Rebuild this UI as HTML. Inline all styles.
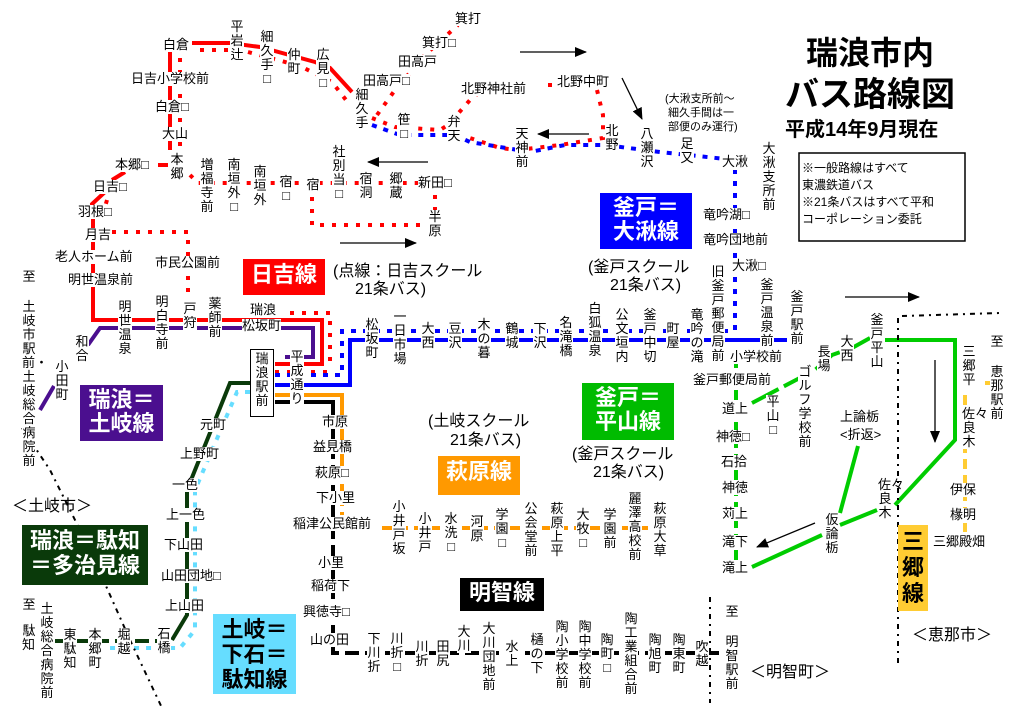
<!DOCTYPE html>
<html><head><meta charset="utf-8"><style>
body{margin:0;background:#fff}
#w{position:relative;width:1024px;height:723px;overflow:hidden;background:#fff;font-family:"Liberation Sans","Noto Sans CJK JP",sans-serif;color:#000}
svg{position:absolute;left:0;top:0}
.t{position:absolute;font-size:13px;line-height:14px;white-space:nowrap;background:#fff}
.v{position:absolute;font-size:13px;line-height:14px;width:14px;text-align:center;word-break:break-all;background:#fff}
.b{position:absolute;font-weight:bold;color:#fff;font-size:22px;line-height:26px;text-align:center;box-sizing:border-box;padding-top:3px}
.m{font-size:16px;line-height:19px;background:transparent}
</style></head><body><div id="w">
<svg width="1024" height="723" viewBox="0 0 1024 723">
<defs><marker id="a" markerWidth="12" markerHeight="10" refX="11" refY="5" orient="auto" markerUnits="userSpaceOnUse"><path d="M0,0L12,5L0,10z"/></marker></defs>
<g fill="none" stroke-linecap="butt">
<polyline stroke="#f00" stroke-width="4" points="192,43 230,43 260,47 315,62 330,68 352,92"/>
<polyline stroke="#f00" stroke-width="4" points="170,52 170,150"/>
<polyline stroke="#f00" stroke-width="4" points="158,165 168,165"/>
<polyline stroke="#f00" stroke-width="4" points="125,172 112,180"/>
<polyline stroke="#f00" stroke-width="4" points="105,192 92,204 93,214 93,320 322,320 322,364 275,364"/>
<g stroke="#f00" stroke-width="4" stroke-dasharray="4 8">
<polyline points="200,50 228,50"/><polyline points="180,58 180,148"/>
<polyline points="248,52 300,66 332,82 346,100"/>
<polyline points="372,118 395,127 440,130 448,125 470,100 488,85 525,85"/>
<polyline points="377,115 395,90 425,55 458,25"/>
<polyline points="548,85 555,85"/>
<polyline points="597,90 603,115 603,138 560,145 518,150 500,148 470,138"/>
<polyline points="190,175 198,183 428,183"/>
<polyline points="312,185 312,225 428,225"/><polyline points="435,195 435,210"/>
<polyline points="107,200 103,214"/>
<polyline points="112,232 188,232 188,300"/>
<polyline points="290,313 330,313 330,368"/>
<polyline points="275,372 330,372"/>
</g>
<polyline stroke="#4b0f8f" stroke-width="4" points="88,345 100,328 313,328 313,357 285,357"/>
<polyline stroke="#4b0f8f" stroke-width="4" points="40,410 54,386"/>
<polyline stroke="#00f" stroke-width="4" points="275,385 350,385 350,340 787,340"/>
<g stroke="#00f" stroke-width="4" stroke-dasharray="5 7">
<polyline points="275,375 342,375 342,331 735,331"/>
<polyline points="735,330 735,170"/>
<polyline points="372,125 400,135 455,135 470,142 530,152 565,145 605,145 660,152 735,160"/>
</g>
<polyline stroke="#f90" stroke-width="4" points="275,395 342,395 342,470"/>
<polyline stroke="#f90" stroke-width="4" stroke-dasharray="8 6" points="342,470 342,515"/>
<polyline stroke="#f90" stroke-width="4" stroke-dasharray="10 6" points="382,528 650,528"/>
<polyline stroke="#000" stroke-width="4" points="275,402 333,402 333,420"/>
<polyline stroke="#000" stroke-width="4" stroke-dasharray="14 6" points="333,425 333,653 365,653"/>
<polyline stroke="#000" stroke-width="4" stroke-dasharray="14 6" points="365,653 725,653"/>
<polyline stroke="#0a3a0a" stroke-width="4" points="252,383 230,383 187,490 187,615 172,640"/>
<polyline stroke="#0a3a0a" stroke-width="4" stroke-dasharray="14 6" points="55,641 172,641"/>
<polyline stroke="#66ddff" stroke-width="4" stroke-dasharray="5 7" points="250,392 237,392 195,490 195,630 180,648 105,648"/>
<polyline stroke="#0c0" stroke-width="4" stroke-dasharray="10 6" points="736,358 736,570"/>
<polyline stroke="#0c0" stroke-width="4" stroke-dasharray="30 6" points="752,403 815,370 832,355 852,348 870,338"/>
<polyline stroke="#0c0" stroke-width="4" points="885,340 955,340 955,440 895,505"/>
<polyline stroke="#0c0" stroke-width="4" points="752,567 822,535"/><polyline stroke="#0c0" stroke-width="4" points="840,525 877,510"/>
<polyline stroke="#0c0" stroke-width="4" points="858,446 840,513"/>
<polyline stroke="#fc3" stroke-width="4" stroke-dasharray="10 6" points="965,395 965,532"/>
<polyline stroke="#fc3" stroke-width="4" points="985,383 1000,383"/>
<g stroke="#000" stroke-width="2" stroke-dasharray="5 5 2 5">
<polyline points="22,428 50,470 90,550 130,640 163,710"/>
<polyline points="898,318 898,665"/><polyline points="902,316 1000,313"/>
<polyline points="710,597 710,703"/>
</g>
<g stroke="#000" stroke-width="1.3" marker-end="url(#a)">
<line x1="520" y1="52" x2="586" y2="52"/><line x1="622" y1="78" x2="642" y2="119"/>
<line x1="589" y1="134" x2="538" y2="134"/><line x1="428" y1="162" x2="368" y2="162"/>
<line x1="340" y1="243" x2="416" y2="243"/><line x1="845" y1="297" x2="919" y2="297"/>
<line x1="935" y1="360" x2="935" y2="442"/><line x1="815" y1="523" x2="757" y2="547"/>
</g>
<rect x="799" y="153" width="166" height="88" stroke="#000" stroke-width="1.5"/>
</g>
</svg>
<div class="t" style="left:806px;top:35px;font-size:32px;line-height:36px;font-weight:bold">瑞浪市内</div>
<div class="t" style="left:785px;top:76px;font-size:34px;line-height:38px;font-weight:bold">バス路線図</div>
<div class="t" style="left:785px;top:118px;font-size:20px;line-height:24px;font-weight:bold">平成14年9月現在</div>
<div class="t" style="left:802px;top:160px;font-size:12px;line-height:17px">※一般路線はすべて<br>東濃鉄道バス<br>※21条バスはすべて平和<br>コーポレーション委託</div>
<div class="t" style="left:665px;top:92px;font-size:11px;line-height:14px">(大湫支所前～<br>&nbsp;細久手間は一<br>&nbsp;部便のみ運行)</div>
<div class="b" style="left:243px;top:259px;width:82px;height:36px;background:#f00">日吉線</div>
<div class="b" style="left:600px;top:193px;width:92px;height:56px;background:#00f;line-height:24px">釜戸＝<br>大湫線</div>
<div class="b" style="left:80px;top:385px;width:83px;height:56px;background:#4b0f8f;line-height:24px">瑞浪＝<br>土岐線</div>
<div class="b" style="left:582px;top:383px;width:92px;height:57px;background:#0b0;line-height:24px">釜戸＝<br>平山線</div>
<div class="b" style="left:438px;top:456px;width:82px;height:39px;background:#f90">萩原線</div>
<div class="b" style="left:460px;top:578px;width:84px;height:33px;background:#000;padding-top:2px">明智線</div>
<div class="b" style="left:22px;top:525px;width:126px;height:60px;background:#0a3a0a;line-height:25px">瑞浪＝駄知<br>＝多治見線</div>
<div class="b" style="left:213px;top:614px;width:83px;height:80px;background:#66ddff;color:#000;line-height:25px">土岐＝<br>下石＝<br>駄知線</div>
<div class="b" style="left:898px;top:525px;width:30px;height:86px;background:#fc3;color:#000;line-height:26px;padding-top:4px">三<br>郷<br>線</div>
<div class="t m" style="left:333px;top:262px">(点線：日吉スクール</div>
<div class="t m" style="left:355px;top:280px">21条バス)</div>
<div class="t m" style="left:588px;top:258px">(釜戸スクール</div>
<div class="t m" style="left:610px;top:276px">21条バス)</div>
<div class="t m" style="left:572px;top:445px">(釜戸スクール</div>
<div class="t m" style="left:593px;top:463px">21条バス)</div>
<div class="t m" style="left:428px;top:412px">(土岐スクール</div>
<div class="t m" style="left:450px;top:431px">21条バス)</div>
<div class="t m" style="left:12px;top:497px">＜土岐市＞</div>
<div class="t m" style="left:912px;top:626px">＜恵那市＞</div>
<div class="t m" style="left:750px;top:663px">＜明智町＞</div>
<div class="t" style="left:455px;top:12px">箕打</div>
<div class="t" style="left:422px;top:36px">箕打□</div>
<div class="t" style="left:398px;top:55px">田高戸</div>
<div class="t" style="left:363px;top:74px">田高戸□</div>
<div class="t" style="left:461px;top:82px">北野神社前</div>
<div class="t" style="left:557px;top:75px">北野中町</div>
<div class="t" style="left:163px;top:38px">白倉</div>
<div class="t" style="left:131px;top:72px">日吉小学校前</div>
<div class="t" style="left:155px;top:100px">白倉□</div>
<div class="t" style="left:162px;top:127px">大山</div>
<div class="t" style="left:115px;top:158px">本郷□</div>
<div class="t" style="left:93px;top:180px">日吉□</div>
<div class="t" style="left:78px;top:205px">羽根□</div>
<div class="t" style="left:85px;top:228px">月吉</div>
<div class="t" style="left:55px;top:250px">老人ホーム前</div>
<div class="t" style="left:68px;top:273px">明世温泉前</div>
<div class="t" style="left:155px;top:256px">市民公園前</div>
<div class="t" style="left:418px;top:176px">新田□</div>
<div class="t" style="left:722px;top:155px">大湫</div>
<div class="t" style="left:703px;top:208px">竜吟湖□</div>
<div class="t" style="left:703px;top:233px">竜吟団地前</div>
<div class="t" style="left:732px;top:259px">大湫□</div>
<div class="t" style="left:250px;top:303px">瑞浪</div>
<div class="t" style="left:242px;top:319px">松坂町</div>
<div class="t" style="left:730px;top:350px">小学校前</div>
<div class="t" style="left:693px;top:373px">釜戸郵便局前</div>
<div class="t" style="left:722px;top:402px">道上</div>
<div class="t" style="left:716px;top:430px">神徳□</div>
<div class="t" style="left:721px;top:455px">石拾</div>
<div class="t" style="left:722px;top:481px">神徳</div>
<div class="t" style="left:722px;top:507px">苅上</div>
<div class="t" style="left:722px;top:535px">滝下</div>
<div class="t" style="left:722px;top:561px">滝上</div>
<div class="t" style="left:840px;top:410px">上論栃</div>
<div class="t" style="left:840px;top:428px">&lt;折返&gt;</div>
<div class="t" style="left:950px;top:483px">伊保</div>
<div class="t" style="left:950px;top:508px">椽明</div>
<div class="t" style="left:933px;top:535px">三郷殿畑</div>
<div class="t" style="left:322px;top:415px">市原</div>
<div class="t" style="left:313px;top:440px">益見橋</div>
<div class="t" style="left:315px;top:466px">萩原□</div>
<div class="t" style="left:316px;top:491px">下小里</div>
<div class="t" style="left:293px;top:517px">稲津公民館前</div>
<div class="t" style="left:318px;top:556px">小里</div>
<div class="t" style="left:311px;top:579px">稲荷下</div>
<div class="t" style="left:303px;top:605px">興徳寺□</div>
<div class="t" style="left:310px;top:633px">山の田</div>
<div class="t" style="left:200px;top:418px">元町</div>
<div class="t" style="left:180px;top:447px">上野町</div>
<div class="t" style="left:172px;top:478px">一色</div>
<div class="t" style="left:166px;top:508px">上一色</div>
<div class="t" style="left:164px;top:538px">下山田</div>
<div class="t" style="left:161px;top:569px">山田団地□</div>
<div class="t" style="left:165px;top:599px">上山田</div>
<div class="v" style="left:230px;top:20px">平岩辻</div>
<div class="v" style="left:260px;top:30px">細久手□</div>
<div class="v" style="left:287px;top:48px">仲町</div>
<div class="v" style="left:316px;top:48px">広見□</div>
<div class="v" style="left:355px;top:88px">細久手</div>
<div class="v" style="left:397px;top:113px">笹□</div>
<div class="v" style="left:447px;top:115px">弁天</div>
<div class="v" style="left:515px;top:127px">天神前</div>
<div class="v" style="left:605px;top:124px">北野</div>
<div class="v" style="left:640px;top:127px">八瀬沢</div>
<div class="v" style="left:680px;top:137px">足又</div>
<div class="v" style="left:762px;top:142px">大湫支所前</div>
<div class="v" style="left:170px;top:153px">本郷</div>
<div class="v" style="left:200px;top:158px">増福寺前</div>
<div class="v" style="left:227px;top:158px">南垣外□</div>
<div class="v" style="left:253px;top:165px">南垣外</div>
<div class="v" style="left:279px;top:175px">宿□</div>
<div class="v" style="left:306px;top:178px">宿</div>
<div class="v" style="left:332px;top:145px">社別当□</div>
<div class="v" style="left:359px;top:172px">宿洞</div>
<div class="v" style="left:389px;top:172px">郷蔵</div>
<div class="v" style="left:428px;top:210px">半原</div>
<div class="v" style="left:22px;top:270px">至</div>
<div class="v" style="left:22px;top:300px">土岐市駅前・土岐総合病院前</div>
<div class="v" style="left:118px;top:300px">明世温泉</div>
<div class="v" style="left:155px;top:295px">明白寺前</div>
<div class="v" style="left:183px;top:302px">戸狩</div>
<div class="v" style="left:208px;top:297px">薬師前</div>
<div class="v" style="left:250px;top:349px;width:24px;height:68px;border:1px solid #000;box-sizing:border-box;padding:2px 4px 0 4px;width:24px">瑞浪駅前</div>
<div class="v" style="left:290px;top:350px">平成通り</div>
<div class="v" style="left:75px;top:335px">和合</div>
<div class="v" style="left:55px;top:360px">小田町</div>
<div class="v" style="left:365px;top:318px">松坂町</div>
<div class="v" style="left:393px;top:310px">一日市場</div>
<div class="v" style="left:421px;top:322px">大西</div>
<div class="v" style="left:448px;top:322px">豆沢</div>
<div class="v" style="left:477px;top:318px">木の暮</div>
<div class="v" style="left:505px;top:322px">鶴城</div>
<div class="v" style="left:533px;top:322px">下沢</div>
<div class="v" style="left:559px;top:316px">名滝橋</div>
<div class="v" style="left:588px;top:302px">白狐温泉</div>
<div class="v" style="left:615px;top:308px">公文垣内</div>
<div class="v" style="left:643px;top:308px">釜戸中切</div>
<div class="v" style="left:666px;top:322px">町屋</div>
<div class="v" style="left:690px;top:308px">竜吟の滝</div>
<div class="v" style="left:711px;top:265px">旧釜戸郵便局前</div>
<div class="v" style="left:760px;top:278px">釜戸温泉前</div>
<div class="v" style="left:790px;top:290px">釜戸駅前</div>
<div class="v" style="left:766px;top:395px">平山□</div>
<div class="v" style="left:798px;top:365px">ゴルフ学校前</div>
<div class="v" style="left:817px;top:345px">長場</div>
<div class="v" style="left:840px;top:335px">大西</div>
<div class="v" style="left:870px;top:313px">釜戸平山</div>
<div class="v" style="left:825px;top:513px">仮論栃</div>
<div class="v" style="left:878px;top:478px">佐々良木</div>
<div class="v" style="left:962px;top:345px">三郷平</div>
<div class="v" style="left:962px;top:407px">佐々良木</div>
<div class="v" style="left:990px;top:335px">至</div>
<div class="v" style="left:990px;top:365px">恵那駅前</div>
<div class="v" style="left:392px;top:500px">小井戸坂</div>
<div class="v" style="left:418px;top:512px">小井戸</div>
<div class="v" style="left:444px;top:512px">水洗□</div>
<div class="v" style="left:470px;top:515px">河原</div>
<div class="v" style="left:495px;top:508px">学園□</div>
<div class="v" style="left:524px;top:502px">公会堂前</div>
<div class="v" style="left:550px;top:502px">萩原上平</div>
<div class="v" style="left:576px;top:508px">大牧□</div>
<div class="v" style="left:603px;top:508px">学園前</div>
<div class="v" style="left:628px;top:492px">麗澤高校前</div>
<div class="v" style="left:653px;top:502px">萩原大草</div>
<div class="v" style="left:367px;top:632px">下川折</div>
<div class="v" style="left:390px;top:632px">川折□</div>
<div class="v" style="left:415px;top:640px">川折</div>
<div class="v" style="left:436px;top:640px">田尻</div>
<div class="v" style="left:457px;top:625px">大川</div>
<div class="v" style="left:482px;top:622px">大川団地前</div>
<div class="v" style="left:505px;top:640px">水上</div>
<div class="v" style="left:530px;top:633px">樋の下</div>
<div class="v" style="left:555px;top:620px">陶小学校前</div>
<div class="v" style="left:578px;top:620px">陶中学校前</div>
<div class="v" style="left:600px;top:633px">陶町□</div>
<div class="v" style="left:624px;top:612px">陶工業組合前</div>
<div class="v" style="left:648px;top:633px">陶旭町</div>
<div class="v" style="left:672px;top:633px">陶東町</div>
<div class="v" style="left:695px;top:640px">吹越</div>
<div class="v" style="left:725px;top:605px">至</div>
<div class="v" style="left:725px;top:635px">明智駅前</div>
<div class="v" style="left:157px;top:627px">石橋</div>
<div class="v" style="left:22px;top:598px">至</div>
<div class="v" style="left:22px;top:624px">駄知・</div>
<div class="v" style="left:40px;top:602px">土岐総合病院前</div>
<div class="v" style="left:63px;top:628px">東駄知</div>
<div class="v" style="left:88px;top:628px">本郷町</div>
<div class="v" style="left:117px;top:628px">堀越</div>
</div></body></html>
